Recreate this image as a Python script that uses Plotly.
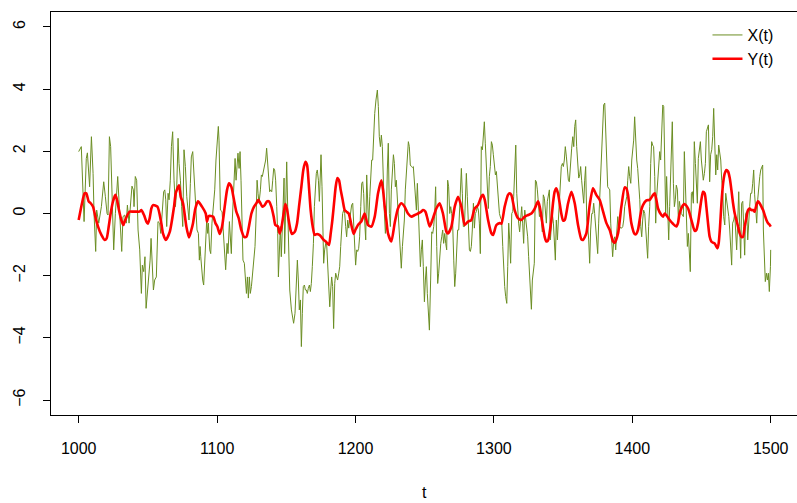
import plotly.graph_objects as go

# X(t): values
tx = [1000, 1001.9, 1003.9, 1005.5, 1006.3, 1007.2, 1007.9, 1009.2, 1010.4, 1011.1, 1012.3, 1013, 1014.5, 1016.4,
      1018.1, 1019.3, 1020.5, 1021.2, 1022.2, 1023.1, 1024.1, 1025.3, 1026.5, 1028.2, 1029.1, 1030.3, 1031.1, 1032,
      1033.2, 1034.4, 1035.2, 1036.4, 1037.3, 1038.5, 1039.5, 1040, 1040.9, 1041.9, 1042.9, 1044.1, 1045.3, 1046,
      1047, 1047.9, 1048.7, 1050.1,
      1051.6, 1052.3, 1053, 1054, 1054.9, 1056.1, 1057.3, 1058.5, 1059.3, 1060.2, 1061.4, 1062.2, 1062.9, 1063.6,
      1064.6, 1065.3, 1066.2, 1067, 1067.9, 1068.9, 1069.9, 1070.8, 1071.8, 1072.5, 1073.5, 1074.4, 1075.2, 1076.1,
      1077.1, 1078.1, 1079, 1079.7, 1080.7, 1081.4, 1082.4, 1083.1, 1083.8, 1084.6, 1085.5, 1086.5, 1087.2, 1087.7,
      1088.2, 1088.9, 1089.6, 1090.3, 1091, 1091.8, 1092.5, 1093.2, 1093.7, 1094.7, 1095.4, 1096.3, 1097.3, 1098.3,
      1099.2, 1100.2, 1100.9,
      1101.4, 1102.4, 1103.6, 1104.3, 1105.5, 1106.2, 1107.2, 1107.9, 1108.9, 1109.6, 1110.3, 1111, 1112, 1113,
      1113.7, 1114.4, 1115.1, 1115.9, 1116.6, 1117.3, 1118, 1118.7, 1119.7, 1120.4, 1121.2, 1121.9, 1122.6, 1123.3,
      1124, 1124.8, 1125.7, 1126.7, 1127.4, 1128.1, 1128.9, 1129.6, 1130.3, 1131.3, 1132, 1132.7, 1133.7, 1134.4,
      1135.1, 1135.8, 1136.6, 1137.3, 1138, 1138.7, 1139.5, 1140.2, 1140.9, 1141.6, 1142.3, 1143.1, 1143.8, 1144.3,
      1145, 1145.7, 1146.4, 1147.2, 1147.9, 1148.4, 1148.8, 1149.6, 1150.3, 1151, 1151.7, 1152.5,
      1153.7, 1154.6, 1155.3, 1156.3, 1157, 1158, 1158.7, 1159.4, 1160.2, 1160.9, 1161.6, 1162.3, 1163.1, 1163.8,
      1164.5, 1165.2, 1165.9, 1166.7, 1167.4, 1168.1, 1168.8, 1169.6, 1170.3, 1171, 1171.7, 1172.4, 1173.2, 1173.9,
      1174.6, 1175.1, 1175.8, 1176.5, 1177, 1177.7, 1178.5, 1179.2, 1179.9, 1180.6, 1181.4, 1182.1, 1182.8, 1183.5,
      1184.2, 1185, 1185.7, 1186.4, 1187.1, 1187.9, 1188.6, 1189.3, 1190, 1190.7, 1191.5, 1192.2, 1192.9, 1193.6,
      1194.4, 1195.1, 1195.8, 1196.5, 1197.2, 1198, 1198.7, 1199.4, 1200.1, 1200.9, 1201.6, 1202.3, 1203,
      1203.8, 1204.5, 1205.2, 1205.9, 1206.6, 1207.4, 1208.1, 1208.8, 1209.5, 1210.3, 1211, 1211.7, 1212.4, 1213.1,
      1213.9, 1214.8, 1215.8, 1216.5, 1217.2, 1218, 1218.7, 1219.4, 1220.1, 1220.9, 1221.6, 1222.3, 1223, 1223.7,
      1224.5, 1225.2, 1225.9, 1226.6, 1227.4, 1228.1, 1228.8, 1229.5, 1230.2, 1231, 1231.7, 1232.4, 1233.1, 1233.9,
      1234.6, 1235.3, 1236, 1236.7, 1237.5, 1238.2, 1238.9, 1239.6, 1240.4, 1241.1, 1241.8, 1242.5, 1243.3, 1244,
      1244.7, 1245.4, 1246.1, 1246.9, 1247.6, 1248.3, 1249, 1249.8, 1250.5, 1251.2, 1251.9, 1252.7, 1253.4,
      1254.3, 1255.1, 1255.8, 1256.5, 1257.2, 1257.9, 1258.7, 1259.4, 1260.1, 1260.8, 1261.6, 1262.3, 1263, 1263.7,
      1264.5, 1265.2, 1265.9, 1266.6, 1267.3, 1268.1, 1268.8, 1269.5, 1270.2, 1271, 1271.7, 1272.4, 1273.1, 1273.8,
      1274.6, 1275.3, 1276, 1276.5, 1277.2, 1277.9, 1278.7, 1279.4, 1280.1, 1280.8, 1281.6, 1282.3, 1283, 1283.7,
      1284.4, 1285.2, 1285.9, 1286.6, 1287.3, 1288.1, 1288.8, 1289.5, 1290.2, 1290.9, 1291.7, 1292.4, 1293.1, 1293.8,
      1294.6, 1295.3, 1296, 1296.7, 1297.4, 1298.2, 1298.9, 1299.6, 1300.3, 1301.1, 1301.8, 1302.5, 1303.2, 1304,
      1304.9, 1305.6, 1306.4, 1307.1, 1307.8, 1308.5, 1309.3, 1310, 1310.7, 1311.4, 1312.1, 1312.9, 1313.6, 1314.3,
      1315, 1315.8, 1316.5, 1317.2, 1317.9, 1318.6, 1319.4, 1320.1, 1320.8, 1321.5, 1322.3, 1323, 1323.7, 1324.4,
      1325.1, 1325.9, 1326.6, 1327.1, 1327.8, 1328.5, 1329.2, 1330, 1330.7, 1331.4, 1332.1, 1332.9, 1333.6, 1334.3,
      1335, 1335.7, 1336.5, 1337.2, 1337.9, 1338.6, 1339.4, 1340.1, 1340.8, 1341.5, 1342.2, 1343, 1343.7, 1344.4,
      1345.1, 1345.9, 1346.6, 1347.3, 1348, 1348.7, 1349.5, 1350.2, 1350.9, 1351.6, 1352.4, 1353.1, 1353.8, 1354.5,
      1355.5, 1356.2, 1357, 1357.7, 1358.4, 1359.1, 1359.8, 1360.6, 1361.3, 1362, 1362.7, 1363.4, 1364.2, 1364.9,
      1365.6, 1366.3, 1367.1, 1367.8, 1368.5, 1369.2, 1369.9, 1370.7, 1371.4, 1372.1, 1372.8, 1373.6, 1374.3, 1375,
      1375.7, 1376.4, 1377.2, 1377.9, 1378.6, 1379.3, 1380.1, 1380.8, 1381.5, 1382.2, 1382.9, 1383.7, 1384.4, 1385.1,
      1385.8, 1386.6, 1387.3, 1388, 1388.7, 1389.5, 1390.2, 1390.9, 1391.6, 1392.3, 1393.1, 1393.8, 1394.5, 1395.2,
      1396, 1396.7, 1397.4, 1398.1, 1398.9, 1399.6, 1400.3, 1401, 1401.7, 1402.5, 1403.2, 1403.9, 1404.6, 1405.4,
      1406.1, 1406.8, 1407.5, 1408.2, 1409, 1409.7, 1410.4, 1411.1, 1411.8, 1412.6, 1413.3, 1414, 1414.7, 1415.4,
      1416.2, 1416.9, 1417.6, 1418.3, 1419.1, 1419.8, 1420.5, 1421.2, 1422, 1422.7, 1423.4, 1424.1, 1424.8, 1425.6,
      1426.3, 1427, 1427.7, 1428.5, 1428.9, 1429.7, 1430.4, 1431.1, 1431.8, 1432.6, 1433.3, 1434, 1434.7, 1435.4,
      1436.2, 1436.9, 1437.6, 1438.3, 1439.1, 1439.8, 1440.5, 1441.2, 1441.9, 1442.7, 1443.4, 1444.1, 1444.8, 1445.6,
      1446.3, 1447, 1447.7, 1448.5, 1449.2, 1449.9, 1450.6, 1451.3, 1452.1, 1452.8, 1453.5, 1454.2, 1455,
      1455.9, 1456.6, 1457.4, 1458.1, 1458.8, 1459.5, 1460.3, 1461, 1461.7, 1462.4, 1463.2, 1463.9, 1464.6, 1465.3,
      1466, 1466.8, 1467.5, 1468.2, 1468.9, 1469.7, 1470.4, 1471.1, 1471.8, 1472.5, 1473.3, 1474, 1474.7, 1475.4,
      1476.2, 1476.9, 1477.6, 1478.3, 1479, 1479.8, 1480.5, 1481.2, 1481.9, 1482.7, 1483.4, 1484.1, 1484.8, 1485.5,
      1486.3, 1487, 1487.7, 1488.4, 1489.2, 1489.9, 1490.6, 1491.3, 1492.1, 1492.8, 1493.5, 1494.2, 1494.7, 1495.4,
      1496.1, 1496.9, 1497.6, 1498.3, 1499, 1499.8, 1500]

x_vals = [1.99, 2.15, -0.26, 1.77, 1.95, 1.07, 0.86, 2.47, 1.29, 0.0, -1.22, 0.11, -0.31, 0.22,
          1.02, 0.54, 0.0, -0.05, 2.47, 2.15, 0.22, -1.17, 0.0, 1.19, 0.44, -0.53, -1.22, -0.1,
          -0.05, -0.31, 0.27, -0.31, 0.22, 0.88, 0.76, 0.22, 1.19, 1.07, -0.53, -1.17, -2.57, -1.66,
          -1.87, -1.39, -3.05, -2.35,
          -1.5, -0.8, -1.71, -2.46, -2.14, -2.04, -0.26, -0.31, -0.64, 0.0, 0.7, 0.76, 0.44, -0.42,
          0.65, 0.44, 1.07, 2.15, 2.63, 1.07, 0.22, 0.76, 2.42, 1.61, 1.07, 0.22, -0.42, 2.05,
          1.51, 0.54, 0.0, -0.21, 0.97, 1.82, 1.99, 1.51, 1.07, 0.22, -0.53, -0.64, -1.5, -1.06,
          -1.39, -1.92, -2.14, -2.3, -1.71, -0.75, -0.21, -0.64, -0.31, -1.17, -1.29, -0.31, 0.22, 0.76,
          1.72, 2.47, 2.8,
          2.36, 0.11, 0.06, -0.42, -1.6, -1.81, -0.96, -1.29, -0.26, -0.64, -1.29, -0.21, 1.07, 1.77,
          1.07, 1.51, 1.94, 1.45, 1.99, 1.07, -0.31, -1.5, -1.6, -2.04, -2.57, -2.04, -2.72, -2.04,
          -2.57, -2.35, -1.92, -1.5, -1.06, -0.21, 1.07, 0.65, 0.33, 0.76, 1.24, 1.19, 1.45, 1.56,
          1.72, 2.1, 1.51, 0.86, 0.7, 0.76, 0.7, 1.07, 1.45, 1.4, 1.07, 0.22, -0.64, -2.04,
          -0.85, -0.42, -1.39, -0.21, 0.54, 1.14, -1.29, 0.22, 1.66, 0.22, -1.71, -2.46,
          -3.1, -3.42, -3.53, -3.21, -2.57, -1.5, -2.14, -3.1, -2.78, -4.28, -3.21, -2.35, -2.3, -2.46,
          -2.46, -2.57, -2.41, -2.3, -2.51, -2.25, -1.71, -0.96, 0.22, 1.07, 1.29, 1.4, 1.07, 0.39,
          1.51, 1.89, 0.86, -0.53, -1.6, -1.17, -0.96, -1.01, -1.71, -2.57, -3.0, -2.46, -2.04, -2.35,
          -3.7, -2.25, -1.92, -2.04, -2.14, -1.92, -1.71, -1.06, -0.53, 0.0, 0.11, 0.0, -0.42, -0.75,
          -0.21, -0.47, -0.21, 0.0, 0.27, 0.33, -0.21, -0.85, -1.66, -1.17, -1.22, -1.12, -0.75,
          0.22, 0.97, 1.02, 0.65, -0.21, -0.85, 1.24, 0.22, -0.42, 0.54, 1.4, 1.72, 1.72, 2.69,
          3.22, 3.65, 3.97, 3.44, 2.47, 2.15, 2.52, 2.15, 0.86, 0.0, -0.64, -0.21, 1.4, 2.26,
          0.0, -0.42, 0.76, 1.29, 1.89, 1.61, 0.86, 1.07, 0.44, 0.0, -0.64, -1.29, -1.76, -1.06,
          -0.53, -0.21, 0.76, 1.4, 2.15, 2.31, 2.15, 1.56, 1.51, 1.48, 1.51, 1.07, 0.86, 0.11,
          0.97, -0.1, -1.06, -1.71, -1.17, -0.85, -1.71, -2.84, -2.14, -1.71, -2.57, -3.21, -3.75,
          -2.14, -0.59, -0.64, -0.42, 0.0, 0.86, -1.06, -2.25, -1.92, -1.29, -0.96, -0.75, -0.53, -0.96,
          -0.64, -0.96, -1.17, 1.07, 0.86, 0.0, 0.22, 0.0, -0.31, -1.5, -2.35, -1.92, -0.96, -0.53,
          -0.53, 0.22, 0.65, 1.45, 0.65, -0.42, -0.42, 0.22, 1.29, 0.54, -0.53, -1.17, -1.22, -1.06,
          -0.53, 0.33, -0.47, 0.0, 0.06, 0.22, 0.11, -0.31, -1.29, 2.15, 2.05, 2.69, 2.95, 2.26,
          1.4, 0.86, 0.16, 1.19, 1.51, 2.31, 2.2, 1.89, 1.56, 1.24, 1.35, 0.97, 0.44, 0.0,
          -0.15, -0.21, -1.06, -2.04, -2.35, -2.67, -2.89, -1.71, -0.31, -0.85, -1.6, 0.0, 0.06, 0.54,
          1.29, 2.2, 0.65, 0.0, -0.31, -0.59, -0.21, 0.22, -0.31, -0.96, 0.11, -0.21, -0.42, -0.75,
          -1.39, -2.14, -2.78, -3.08, -2.14, -1.81, -1.6, 1.07, 1.02, 0.76, 0.22, -0.1, 0.0, -0.21,
          -0.59, 0.6, 0.49, 0.0, -0.31, 0.39, 0.65, 0.76, -0.85, -0.42, 0.0, -0.31, -0.75, -1.5,
          -0.21, -0.85, -0.21, 0.54, 1.19, 1.51, 1.61, 1.51, 1.72, 2.15, 1.82, 1.51, 1.07, 1.02,
          1.82, 2.1, 2.47, 2.15, 2.8, 3.01, 2.15, 1.61, 1.14, 1.24, 1.51, 1.07, 0.65, 0.33,
          1.07, 1.51, -0.21, -0.42, -0.85, -1.6, -0.53, 0.0, 0.0, 0.33, 0.0, -0.53, -0.96, -1.29,
          -0.31, 0.44, 1.29, 2.15, 3.01, 3.49, 3.55, 2.36, 1.51, 0.86, 0.81, 0.76, -0.31, -0.85,
          -1.39, -0.85, -0.75, -1.17, -0.47, -0.1, -0.53, -0.42, -0.47, -0.47, -0.42, -0.21, 0.22, 0.44,
          0.54, 1.07, 1.51, 1.19, 0.97, 1.72, 2.1, 2.36, 3.11, 2.15, 1.72, 1.45, 1.07, 0.44,
          -0.42, -0.75, -0.21, 0.11, 0.0, -0.64, -1.06, -1.44, -0.42, 0.22, 1.61, 2.31, 2.2, 2.15,
          1.19, -0.31, 0.54, 1.07, 1.4, 1.99, 1.72, 2.8, 3.49, 3.44, 1.07, 0.0, 1.19, -0.31,
          -0.85, 0.22, 1.07, 2.26, 2.95, 0.97, 0.22, 0.44, 0.91, 0.76, -0.21, 0.39, 0.22, 0.0,
          -0.05, -0.1, 1.99, 0.76, -0.1, -1.06, -0.64, -1.39, -1.87, 0.65, 0.7, 0.33, 2.31, 1.61,
          0.76, 0.33, 1.77, 2.2, 2.31, 1.72, 1.19, 1.07, 1.29, 1.61, 2.63, 2.74, 2.85,
          1.02, 1.89, 2.05, 2.47, 3.38, 2.36, 1.24, 1.89, 1.4, 2.2, 1.89, 1.72, 1.07, 0.76,
          -0.1, -0.37, 0.65, 0.44, 0.22, -0.1, -0.53, -0.96, -1.66, -0.31, -0.21, 0.0, -0.64, -1.17,
          -0.21, 0.7, -0.42, -1.44, 0.33, 0.39, -0.42, -1.34, 0.0, 0.06, -0.85, -0.1, 0.22, 0.65,
          0.65, 0.97, 1.4, 0.6, 0.06, -0.31, 0.44, 0.86, 1.19, 1.4, 1.51, 1.56, -0.53, -1.71,
          -2.19, -1.92, -2.14, -1.92, -2.51, -1.71, -1.17]

# Y(t): smoothed series
ty = [1000, 1002.4, 1004.3, 1005.5, 1007.2, 1008.7, 1010.4, 1012, 1014, 1016.4, 1018.8, 1020.2, 1021.7, 1023.1,
      1024.8, 1026.5, 1027.7, 1029.1, 1030.8, 1032.3, 1033.2, 1035.2, 1036.8, 1039.3, 1041.7, 1044, 1045.3, 1047.2,
      1048.9, 1050, 1051.3, 1052.5, 1053.7, 1056.9, 1059.7, 1060.9, 1062.9, 1065.8, 1068.9, 1070.1, 1072.5, 1073.7,
      1075.4, 1077.8, 1079.7, 1081.4, 1082.6, 1084.3, 1086.2, 1089.1, 1091.8, 1092.7, 1093.9, 1097.1, 1098.8,
      1100.2, 1101.9, 1103.6, 1105.5, 1107.2, 1108.6, 1110.3, 1112, 1113.9, 1115.6, 1117.5, 1119.5, 1121.2, 1122.8,
      1124.8, 1126.7, 1128.4, 1129.8, 1131.3, 1132.7, 1134.4, 1136.1, 1137.5, 1139.2, 1140.9, 1142.1, 1144, 1145.2,
      1146.4, 1148.1, 1149.3, 1150.5, 1151.7, 1152.9, 1154.1, 1156.1, 1157.8, 1159.2, 1160.9, 1162.3, 1163.8, 1165,
      1166.2, 1167.6, 1169.1, 1170.5, 1172.2, 1173.9, 1175.3, 1177, 1178.5, 1179.7, 1180.9, 1182.1, 1183.3, 1184.5,
      1185.7, 1186.9, 1188.1, 1189.3, 1190.7, 1192.2, 1193.4, 1195.1, 1196.3, 1197.5, 1198.7, 1199.9, 1200.6,
      1201.8, 1204.2, 1206.6, 1209, 1211.5, 1213.9, 1216.3, 1218.7, 1219.9, 1221.1, 1222.3, 1223.5, 1225.9, 1228.3,
      1230.7, 1233.1, 1235.5, 1237.9, 1240.4, 1242.8, 1245.2, 1247.6, 1248.8, 1250.5, 1251.9, 1253.6, 1256, 1258.4,
      1260.8, 1263.2, 1265.7, 1266.9, 1269.3, 1271.7, 1274.1, 1276.5, 1278.9, 1281.3, 1283.7, 1286.1, 1288.5,
      1290.9, 1292.1, 1293.4, 1295.8, 1298.2, 1299.4, 1301.8, 1304.2, 1305.4, 1307.8, 1310.2, 1311.4, 1312.6,
      1315, 1317.4, 1319.8, 1322.3, 1324.7, 1327.1, 1329.5, 1331.9, 1333.1, 1334.3, 1336.7, 1337.9, 1339.1, 1341.5,
      1342.7, 1343.9, 1345.1, 1346.3, 1348.7, 1350, 1351.2, 1353.6, 1356, 1358.4, 1360.8, 1363.2, 1364.4, 1366.8,
      1369.2, 1371.6, 1374, 1376.4, 1378.9, 1381.3, 1383.7, 1386.1, 1387.3, 1389.7, 1392.1, 1394.5, 1395.7, 1396.9,
      1399.3, 1401.7, 1402.9, 1404.1, 1405.3, 1406.5, 1407.7, 1410.2, 1412.6, 1415, 1416.2, 1417.4, 1418.6, 1421,
      1422.2, 1423.4, 1424.6, 1427, 1429.4, 1431.8, 1433, 1434.2, 1436.7, 1437.9, 1440.3, 1442.7, 1445.1, 1446.3,
      1447.5, 1449.9, 1451.1, 1452.3, 1453.5, 1454.7, 1455.9, 1457.1, 1458.3, 1459.5, 1460.7, 1461.5, 1462.4,
      1463.4, 1464.4, 1465.6, 1466.8, 1468, 1469.2, 1470.4, 1471.6, 1472.8, 1474, 1475.2, 1476.4, 1477.6, 1478.8,
      1480, 1481.2, 1482.4, 1483.6, 1484.8, 1486, 1487.2, 1488.4, 1489.6, 1490.8, 1492, 1493.3, 1494.5, 1495.7,
      1496.9, 1498.1, 1499.3, 1500]

y_vals = [-0.21, 0.33, 0.65, 0.65, 0.39, 0.33, 0.22, -0.1, -0.42, -0.69, -0.85, -0.8, -0.42, 0.0,
          0.39, 0.6, 0.44, 0.11, -0.21, -0.37, -0.26, -0.05, 0.06, 0.06, 0.06, 0.06, 0.11, -0.05,
          -0.26, -0.33, -0.15, 0.16, 0.27, 0.22, -0.31, -0.64, -0.85, -0.59, 0.22, 0.65, 0.91, 0.54,
          0.33, -0.42, -0.77, -0.53, -0.31, 0.16, 0.39, 0.22, 0.0, -0.26, -0.08, -0.1, -0.31,
          -0.42, -0.66, -0.42, 0.22, 0.76, 0.97, 0.86, 0.49, 0.06, -0.15, -0.53, -0.75, -0.75, -0.47,
          0.0, 0.22, 0.33, 0.44, 0.33, 0.22, 0.27, 0.39, 0.39, 0.22, -0.1, -0.37, -0.42, -0.64,
          -0.47, 0.0, 0.3, 0.14, -0.2, -0.5, -0.66, -0.59, -0.31, 0.22, 0.86, 1.4, 1.66, 1.56,
          0.97, 0.11, -0.42, -0.69, -0.66, -0.69, -0.75, -0.85, -0.9, -0.96, -1.01, -0.64, -0.21, 0.33,
          0.86, 1.14, 1.07, 0.76, 0.44, 0.11, 0.06, 0.0, -0.21, -0.47, -0.66, -0.53, -0.47,
          -0.37, -0.26, 0.0, -0.37, -0.42, -0.1, 0.65, 1.07, 0.76, 0.22, -0.21, -0.64, -0.9, -0.31,
          0.16, 0.33, 0.22, 0.0, -0.1, -0.05, 0.0, 0.06, 0.11, 0.06, -0.15, -0.42, -0.15, 0.16,
          0.33, 0.0, -0.59, -0.64, -0.42, 0.22, 0.54, 0.22, -0.37, -0.26, -0.21, 0.16, 0.27,
          0.54, 0.6, 0.44, -0.21, -0.64, -0.69, -0.37, -0.31, -0.33, 0.22, 0.6, 0.65, 0.6,
          0.11, -0.15, -0.21, -0.1, -0.05, 0.0, 0.16, 0.39, 0.22, -0.1, -0.75, -0.9, -0.87, -0.21,
          0.33, 0.7, 0.81, 0.65, 0.0, -0.23, -0.21, 0.33, 0.7, 0.33, -0.37, -0.83, -0.85, -0.64,
          0.27, 0.81, 0.6, 0.44, 0.06, -0.31, -0.53, -0.9, -0.94, -0.64, 0.22, 0.84, 0.81, 0.6,
          -0.31, -0.66, -0.66, -0.53, -0.21, 0.11, 0.27, 0.42, 0.44, 0.6, 0.65, 0.44, 0.16, -0.05,
          -0.1, 0.0, -0.05, -0.21, -0.33, -0.42, -0.31, 0.0, 0.27, 0.3, 0.16, -0.21, -0.56, -0.53,
          -0.31, 0.44, 0.7, 0.65, 0.22, -0.31, -0.75, -0.9, -0.94, -0.96, -1.06, -1.12, -0.96,
          -0.42, 0.33, 0.97, 1.29, 1.4, 1.35, 1.14, 0.76, 0.33, 0.0, -0.21, -0.42, -0.64, -0.75,
          -0.75, -0.42, -0.15, 0.11, 0.16, 0.11, 0.11, 0.06, 0.27, 0.39, 0.33, 0.22, 0.11, -0.05,
          -0.21, -0.31, -0.37, -0.42]

x_ticks = [1000, 1100, 1200, 1300, 1400, 1500]
y_ticks = [-6, -4, -2, 0, 2, 4, 6]

FONT = "Liberation Sans, Arial, Helvetica, sans-serif"

fig = go.Figure()
fig.add_trace(go.Scatter(x=tx, y=x_vals, mode="lines", name="X(t)",
                         line=dict(color="#6B8E23", width=1)))
fig.add_trace(go.Scatter(x=ty, y=y_vals, mode="lines", name="Y(t)",
                         line=dict(color="#FF0000", width=2.6, shape="spline", smoothing=0.6)))

fig.update_layout(
    width=797, height=503,
    margin=dict(l=51, r=0, t=12, b=88),
    paper_bgcolor="white", plot_bgcolor="white",
    font=dict(family=FONT, size=16, color="black"),
    showlegend=True,
    legend=dict(x=0.880, y=0.985, xanchor="left", yanchor="top",
                bgcolor="rgba(0,0,0,0)", borderwidth=0,
                font=dict(size=16), tracegroupgap=0, itemwidth=30),
    xaxis=dict(range=[980, 1519], tickvals=x_ticks, ticktext=[str(v) for v in x_ticks],
               showgrid=False, zeroline=False, showline=True, linecolor="black", linewidth=1,
               mirror=True, ticks="outside", ticklen=7, tickcolor="black", tickwidth=1,
               ticklabelstandoff=12, tickfont=dict(size=16)),
    yaxis=dict(range=[-6.48, 6.48], tickvals=y_ticks, ticktext=[str(v).replace("-", "\u2212") for v in y_ticks],
               showgrid=False, zeroline=False, showline=True, linecolor="black", linewidth=1,
               mirror=False, ticks="outside", ticklen=7, tickcolor="black", tickwidth=1,
               tickangle=-90, ticklabelstandoff=12, tickfont=dict(size=16)),
    annotations=[dict(text="t", x=1250, xref="x", y=-0.1935, yref="paper",
                      xanchor="center", yanchor="middle", showarrow=False,
                      font=dict(size=16, family=FONT))],
)

fig.write_html("out.html")
